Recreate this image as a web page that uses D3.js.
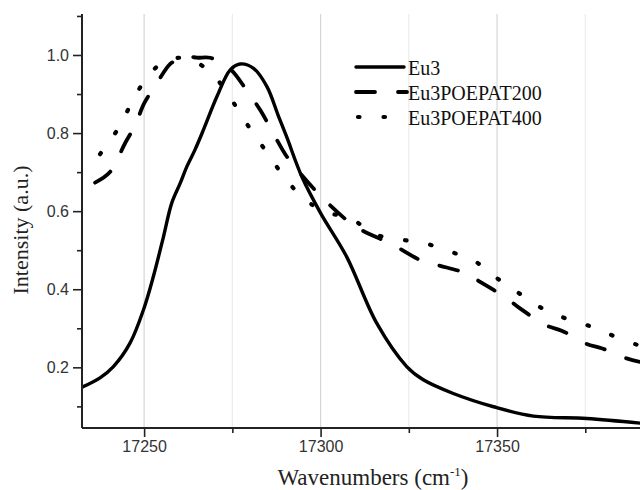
<!DOCTYPE html>
<html>
<head>
<meta charset="utf-8">
<script src="https://cdn.jsdelivr.net/npm/d3@7/dist/d3.min.js"></script>
<style>
  html, body { margin: 0; padding: 0; background: #fff; }
  svg { display: block; }
</style>
</head>
<body>
<svg id="chart" width="640" height="490"></svg>
<script>
// ---- data ----
const seriesNames = ["Eu3", "Eu3POEPAT200", "Eu3POEPAT400"];

const wavenumbersEu3 = [17232.4, 17237.5, 17241.3, 17246, 17249.8, 17252.6, 17255.5, 17257.8, 17260.2, 17262.1, 17264.4, 17266.8, 17270.6, 17274.4, 17277.2, 17281, 17284.8, 17288, 17290.4, 17294.7, 17300, 17307.4, 17315.9, 17324.4, 17329.1, 17337.6, 17349, 17360.3, 17375.4, 17390.5];
const intensityEu3 = [0.149, 0.173, 0.202, 0.262, 0.347, 0.432, 0.535, 0.620, 0.671, 0.714, 0.757, 0.808, 0.893, 0.962, 0.977, 0.966, 0.919, 0.845, 0.790, 0.688, 0.595, 0.483, 0.313, 0.202, 0.168, 0.133, 0.099, 0.075, 0.069, 0.057];

const wavenumbers200 = [17236.1, 17240.4, 17244.6, 17247.5, 17250, 17253, 17257.4, 17259.3, 17261, 17263, 17265, 17268.7, 17274.4, 17279, 17282.9, 17286.6, 17290.4, 17294.2, 17300, 17307.4, 17310.7, 17320.6, 17329.1, 17333.9, 17341.4, 17345.2, 17352.7, 17356.5, 17364, 17368.3, 17375.4, 17379.6, 17386.7, 17390.5];
const intensity200 = [0.673, 0.701, 0.774, 0.821, 0.876, 0.919, 0.977, 0.987, 0.997, 0.996, 0.993, 0.993, 0.964, 0.910, 0.859, 0.799, 0.740, 0.697, 0.639, 0.577, 0.556, 0.513, 0.471, 0.460, 0.440, 0.419, 0.377, 0.351, 0.307, 0.294, 0.260, 0.249, 0.223, 0.214];

const wavenumbers400 = [17237.5, 17242.4, 17246, 17250, 17255.5, 17261, 17264, 17269.2, 17274.8, 17279, 17283.8, 17289.3, 17295.1, 17301.8, 17308.4, 17315.4, 17322, 17329.1, 17336, 17342.8, 17349.7, 17356.5, 17363.6, 17370.2, 17377.1, 17383.9, 17390.5];
const intensity400 = [0.746, 0.808, 0.869, 0.932, 0.983, 0.993, 0.985, 0.953, 0.885, 0.825, 0.763, 0.693, 0.633, 0.597, 0.582, 0.541, 0.528, 0.519, 0.498, 0.477, 0.430, 0.388, 0.347, 0.323, 0.303, 0.277, 0.255];

const xMajorTicks = [17250, 17300, 17350];
const xMinorTicks = [17275, 17325, 17375];
const xGridValues = [17250, 17275, 17300, 17325, 17350, 17375];
const yMajorTicks = [0.2, 0.4, 0.6, 0.8, 1.0];
const yMinorTicks = [0.1, 0.3, 0.5, 0.7, 0.9, 1.1];

// ---- layout ----
const svg = d3.select("#chart");
const plotLeft = 82, plotRight = 640, plotTop = 14, plotBottom = 428;

const x = d3.scaleLinear().domain([17232.4, 17390.5]).range([plotLeft, plotRight]);
const y = d3.scaleLinear().domain([0.0446, 1.105]).range([plotBottom, plotTop]);

// grid lines
svg.append("g").selectAll("line").data(xGridValues).join("line")
  .attr("x1", d => x(d)).attr("x2", d => x(d))
  .attr("y1", plotTop).attr("y2", plotBottom)
  .attr("stroke", d => xMajorTicks.includes(d) ? "#d6d6d6" : "#ececec")
  .attr("stroke-width", 1.2);

// series
const series = [
  { name: seriesNames[0], xs: wavenumbersEu3, ys: intensityEu3, dash: null, width: 3.4 },
  { name: seriesNames[1], xs: wavenumbers200, ys: intensity200, dash: "19,23", width: 3.8 },
  { name: seriesNames[2], xs: wavenumbers400, ys: intensity400, dash: "1.5,24", width: 4.2 }
];

const line = d3.line()
  .x(d => x(d[0])).y(d => y(d[1]))
  .curve(d3.curveCatmullRom.alpha(0.5));

svg.append("clipPath").attr("id", "plotclip")
  .append("rect").attr("x", plotLeft).attr("y", 0).attr("width", plotRight - plotLeft).attr("height", plotBottom);

const gLines = svg.append("g").attr("clip-path", "url(#plotclip)");
series.forEach(s => {
  const pts = s.xs.map((v, i) => [v, s.ys[i]]);
  gLines.append("path")
    .attr("d", line(pts))
    .attr("fill", "none")
    .attr("stroke", "#000")
    .attr("stroke-width", s.width)
    .attr("stroke-linecap", "round")
    .attr("stroke-linejoin", "round")
    .attr("stroke-dasharray", s.dash);
});

// axes
const axisColor = "#222";
const xAxisMajor = d3.axisBottom(x).tickValues(xMajorTicks).tickSize(9).tickPadding(4).tickFormat(d3.format("d"));
const xAxisMinor = d3.axisBottom(x).tickValues(xMinorTicks).tickSize(5).tickFormat("");
const yAxisMajor = d3.axisLeft(y).tickValues(yMajorTicks).tickSize(9).tickPadding(4).tickFormat(d3.format(".1f"));
const yAxisMinor = d3.axisLeft(y).tickValues(yMinorTicks).tickSize(5).tickFormat("");

function styleAxis(g) {
  g.select(".domain").remove();
  g.selectAll(".tick line").attr("stroke", axisColor).attr("stroke-width", 1.6);
  g.selectAll(".tick text")
    .attr("fill", "#333")
    .attr("font-family", "Liberation Sans, Arial, sans-serif")
    .attr("font-size", 16);
}

svg.append("g").attr("transform", `translate(0,${plotBottom})`).call(xAxisMinor).call(styleAxis);
svg.append("g").attr("transform", `translate(0,${plotBottom})`).call(xAxisMajor).call(styleAxis);
svg.append("g").attr("transform", `translate(${plotLeft},0)`).call(yAxisMinor).call(styleAxis);
svg.append("g").attr("transform", `translate(${plotLeft},0)`).call(yAxisMajor).call(styleAxis);

// axis lines
svg.append("line").attr("x1", plotLeft).attr("x2", plotRight).attr("y1", plotBottom).attr("y2", plotBottom)
  .attr("stroke", axisColor).attr("stroke-width", 2);
svg.append("line").attr("x1", plotLeft).attr("x2", plotLeft).attr("y1", plotTop).attr("y2", plotBottom)
  .attr("stroke", axisColor).attr("stroke-width", 2);

// axis titles
const serif = "Liberation Serif, Times New Roman, serif";
const xt = svg.append("text")
  .attr("x", 373).attr("y", 485)
  .attr("text-anchor", "middle")
  .attr("font-family", serif).attr("font-size", 23).attr("fill", "#222");
xt.append("tspan").text("Wavenumbers (cm");
xt.append("tspan").attr("dy", -9).attr("font-size", 13).text("-1");
xt.append("tspan").attr("dy", 9).text(")");

svg.append("text")
  .attr("transform", "translate(28,230) rotate(-90)")
  .attr("text-anchor", "middle")
  .attr("font-family", serif).attr("font-size", 22).attr("fill", "#222")
  .text("Intensity (a.u.)");

// legend
const legendRows = [67, 92, 117];
const legend = svg.append("g");
series.forEach((s, i) => {
  const yy = legendRows[i];
  legend.append("line")
    .attr("x1", i === 2 ? 358 : 356).attr("x2", i === 0 ? 404 : 407)
    .attr("y1", yy).attr("y2", yy)
    .attr("stroke", "#000")
    .attr("stroke-width", s.width)
    .attr("stroke-linecap", "round")
    .attr("stroke-dasharray", s.dash);
  legend.append("text")
    .attr("x", 408).attr("y", yy + 8)
    .attr("font-family", serif).attr("font-size", 20).attr("fill", "#111")
    .text(s.name);
});
</script>
</body>
</html>
